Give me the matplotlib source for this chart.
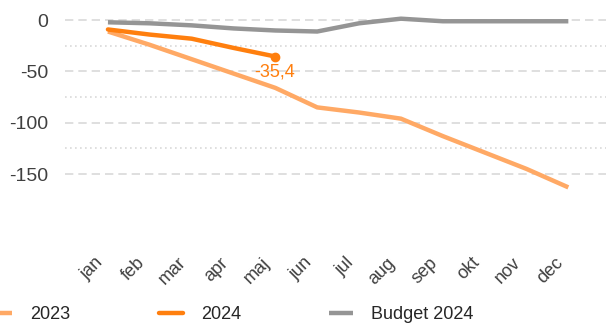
import matplotlib.pyplot as plt
import matplotlib.transforms as mtransforms
import numpy as np

plt.rcParams['font.family'] = ['Liberation Sans', 'DejaVu Sans']

# monthly cumulative result
months = ['jan', 'feb', 'mar', 'apr', 'maj', 'jun', 'jul', 'aug', 'sep', 'okt', 'nov', 'dec']
res_2023 = [-11, -24, -38, -52, -66, -85, -90, -96, -113, -129, -145, -163]
res_2024 = [-9, -14, -18, -27, -35.4]
budget_2024 = [-2, -3, -5, -8, -10, -11, -3, 1.5, -1, -1, -1, -1]

c_2023 = '#FFA965'
c_2024 = '#FF7F0E'
c_budget = '#959595'

fig = plt.figure(figsize=(6.06, 3.25), dpi=100)
ax = fig.add_axes([0.107, 0.291, 0.893, 0.672])

x = np.arange(len(months))

ax.plot(x, res_2023, color=c_2023, lw=3.2, label='2023', solid_capstyle='butt')
ax.plot(x[:len(res_2024)], res_2024, color=c_2024, lw=3.2, label='2024', solid_capstyle='round')
ax.plot(x, budget_2024, color=c_budget, lw=3.2, label='Budget 2024', solid_capstyle='butt')

# end point of this year's line with value label
last = len(res_2024) - 1
ax.plot(x[last], res_2024[last], 'o', color=c_2024, ms=6)
ax.annotate(f'{res_2024[last]:.1f}'.replace('.', ','), (x[last], res_2024[last]),
            xytext=(-15, -11.5), textcoords='offset points', color=c_2024,
            fontsize=13, ha='left', va='center', zorder=5)

# gridlines: dashed at labelled ticks, dotted in between
for v in [0, -50, -100, -150]:
    ax.axhline(v, color='#d9d9d9', lw=1.2, ls=(0, (5, 3)), zorder=0)
for v in [-25, -75, -125]:
    ax.axhline(v, color='#d9d9d9', lw=1.2, ls=(0, (1, 2)), zorder=0)

ax.set_xlim(-1.03, 11.9)
ax.set_ylim(-205, 8)
ax.set_yticks([0, -50, -100, -150])
ax.set_yticklabels(['0', '-50', '-100', '-150'], fontsize=14, color='#404040')
ax.set_xticks(x)
ax.set_xticklabels(months, rotation=45, ha='right', rotation_mode='anchor',
                   fontsize=13, color='#404040')
ax.tick_params(axis='y', length=0, pad=12)
ax.tick_params(axis='x', length=0, pad=20)

# nudge the rotated month labels so they sit left of their tick
shift = mtransforms.ScaledTranslation(-0.14, 0.04, fig.dpi_scale_trans)
for lbl in ax.get_xticklabels():
    lbl.set_transform(lbl.get_transform() + shift)

for s in ax.spines.values():
    s.set_visible(False)

fig.legend(loc='lower left', bbox_to_anchor=(-0.045, -0.045), ncol=3, frameon=False,
           fontsize=13, handlelength=1.3, columnspacing=4.9, handletextpad=1.0,
           labelcolor='#262626')

plt.savefig('out.png', dpi=100)
